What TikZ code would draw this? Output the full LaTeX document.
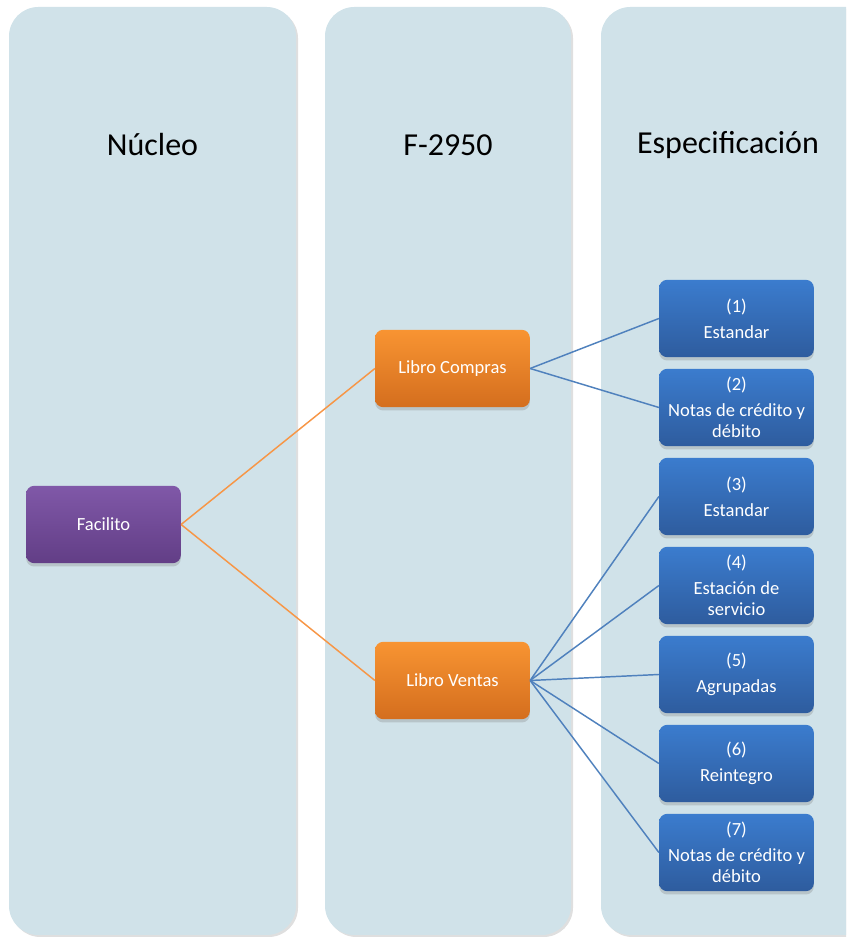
\documentclass[tikz,border=0pt]{standalone}
\usepackage{fontspec}
\setmainfont{Carlito}
\usetikzlibrary{shadows}

% colours
\definecolor{panelfill}{RGB}{208,226,233}
\definecolor{coretop}{RGB}{128,88,168}
\definecolor{corebot}{RGB}{98,62,134}
\definecolor{booktop}{RGB}{248,148,50}
\definecolor{bookbot}{RGB}{212,110,30}
\definecolor{spectop}{RGB}{59,124,206}
\definecolor{specbot}{RGB}{46,92,158}
\definecolor{linkorange}{RGB}{247,150,70}
\definecolor{linkblue}{RGB}{79,129,189}

\tikzset{
  panel/.style={fill=panelfill, rounded corners=22pt,
    drop shadow={shadow xshift=1.5pt, shadow yshift=-1.5pt, opacity=0.25}},
  paneltitle/.style={font=\fontsize{24}{28}\selectfont, text=black},
  boxbase/.style={rounded corners=6pt, minimum width=116pt, minimum height=58pt,
    text=white, align=center, inner sep=2pt,
    font=\fontsize{13.9}{15.8}\selectfont,
    drop shadow={shadow xshift=0pt, shadow yshift=-2.5pt, opacity=0.3}},
  corebox/.style={boxbase, top color=coretop, bottom color=corebot},
  bookbox/.style={boxbase, top color=booktop, bottom color=bookbot},
  specbox/.style={boxbase, top color=spectop, bottom color=specbot},
  orangelink/.style={draw=linkorange, line width=1.1pt},
  bluelink/.style={draw=linkblue, line width=1.1pt}
}

\begin{document}
\begin{tikzpicture}[x=0.75pt, y=0.75pt]

    % page size of the reference (846 x 938 px)
    \useasboundingbox (0,0) rectangle (846,938);
    \clip (0,0) rectangle (846,938);

    % three background columns
    \path[panel] (9,3) rectangle (296,931);
    \path[panel] (325,3) rectangle (571,931);
    \path[panel] (601,3) rectangle (890,931);

    % column headings
    \node[paneltitle] (tnucleo) at (152.5,793) {Núcleo};
    \node[paneltitle] (tform) at (448,793) {F-2950};
    \node[paneltitle] (tspec) at (728,793) {Especificación};

    % core node
    \node[corebox] (facilito) at (103.5,413.5) {Facilito};

    % the two books
    \node[bookbox] (compras) at (452.5,569.5) {Libro Compras};
    \node[bookbox] (ventas) at (452.5,257.5) {Libro Ventas};

    % specification boxes
    \node[specbox] (s1) at (736.5,619.5) {(1)\\[4pt]Estandar};
    \node[specbox] (s2) at (736.5,530.5) {(2)\\[4pt]Notas de crédito y\\débito};
    \node[specbox] (s3) at (736.5,441.5) {(3)\\[4pt]Estandar};
    \node[specbox] (s4) at (736.5,352.5) {(4)\\[4pt]Estación de\\servicio};
    \node[specbox] (s5) at (736.5,263.5) {(5)\\[4pt]Agrupadas};
    \node[specbox] (s6) at (736.5,174.5) {(6)\\[4pt]Reintegro};
    \node[specbox] (s7) at (736.5,85.5) {(7)\\[4pt]Notas de crédito y\\débito};

    % core to books
    \draw[orangelink] (facilito.east) -- (compras.west);
    \draw[orangelink] (facilito.east) -- (ventas.west);

    % books to specifications
    \draw[bluelink] (compras.east) -- (s1.west);
    \draw[bluelink] (compras.east) -- (s2.west);
    \draw[bluelink] (ventas.east) -- (s3.west);
    \draw[bluelink] (ventas.east) -- (s4.west);
    \draw[bluelink] (ventas.east) -- (s5.west);
    \draw[bluelink] (ventas.east) -- (s6.west);
    \draw[bluelink] (ventas.east) -- (s7.west);

\end{tikzpicture}
\end{document}
